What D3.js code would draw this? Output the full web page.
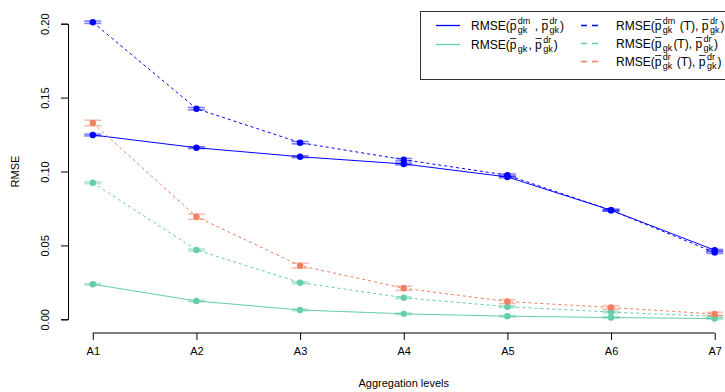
<!DOCTYPE html>
<html><head><meta charset="utf-8">
<script src="https://cdn.jsdelivr.net/npm/d3@7"></script>
<style>body{margin:0;background:#fff}svg{display:block;font-family:"Liberation Sans",Arial,sans-serif}</style>
</head><body><div id="chart"></div>
<script>
const categories = ["A1","A2","A3","A4","A5","A6","A7"];
const yTicks = [0.00,0.05,0.10,0.15,0.20];
const dmSolid   = [0.1247,0.1161,0.1100,0.1051,0.0963,0.0738,0.0468];
const dmDashed  = [0.2010,0.1425,0.1195,0.1080,0.0975,0.0738,0.0452];
const dSolid    = [0.0237,0.0124,0.0063,0.0037,0.0021,0.0012,0.0005];
const dDashed   = [0.0924,0.0469,0.0248,0.0146,0.0085,0.0049,0.0020];
const drDashed  = [0.1328,0.0694,0.0363,0.0210,0.0120,0.0080,0.0036];
const dmSolidErr  = [0.0006,0.0006,0.0006,0.0006,0.0006,0.0005,0.0005];
const dmDashedErr = [0.0008,0.0008,0.0008,0.0008,0.0008,0.0006,0.0006];
const dSolidErr   = [0.0005,0.0005,0.0005,0.0005,0.0005,0.0005,0.0005];
const dDashedErr  = [0.0006,0.0006,0.0006,0.0006,0.0006,0.0006,0.0006];
const drDashedErr = [0.0019,0.0018,0.0016,0.0014,0.0013,0.0012,0.0011];
const colBlue = "#0000FF", colGreen = "#66CDAA", colOrange = "#F08060";

const W = 725, H = 392;
const svg = d3.select("#chart").append("svg").attr("width",W).attr("height",H);
const x = d3.scalePoint().domain(categories).range([92.8, 714.7]);
const y = d3.scaleLinear().domain([0,0.20]).range([319.3, 23.7]);
const axisY = 333;

// axes
const ya = svg.append("g").attr("transform","translate(68,0)")
  .call(d3.axisLeft(y).tickValues(yTicks).tickFormat(d3.format(".2f")).tickSizeOuter(0).tickSize(7));
ya.select(".domain").attr("stroke","#000");
ya.selectAll("text").attr("font-size",11).attr("fill","#000")
  .attr("x",0).attr("y",0).attr("dy",0)
  .attr("transform","translate(-19,0) rotate(-90)").attr("text-anchor","middle");
const xa = svg.append("g").attr("transform",`translate(0,${axisY})`)
  .call(d3.axisBottom(x).tickSizeOuter(0).tickSize(7));
xa.select(".domain").attr("d",`M${x("A1")},0H${x("A7")}`).attr("stroke","#000");
xa.selectAll("text").attr("font-size",11).attr("fill","#000").attr("y",14).attr("dy","0.71em");
svg.append("text").attr("x",(x("A1")+x("A7"))/2).attr("y",387).attr("text-anchor","middle")
  .attr("font-size",11).text("Aggregation levels");
svg.append("text").attr("transform",`translate(19,${y(0.10)}) rotate(-90)`).attr("text-anchor","middle")
  .attr("font-size",11).text("RMSE");

const series = [
  {v:dSolid, e:dSolidErr, c:colGreen, dash:null},
  {v:dmSolid, e:dmSolidErr, c:colBlue, dash:null},
  {v:dDashed, e:dDashedErr, c:colGreen, dash:"3,3"},
  {v:drDashed, e:drDashedErr, c:colOrange, dash:"3,3"},
  {v:dmDashed, e:dmDashedErr, c:colBlue, dash:"3,3"},
];
const line = d3.line().x((d,i)=>x(categories[i])).y(d=>y(d));
series.forEach(s=>{
  const g = svg.append("g");
  g.append("path").attr("d",line(s.v)).attr("fill","none").attr("stroke",s.c).attr("stroke-width",1)
    .attr("stroke-dasharray",s.dash);
  s.v.forEach((v,i)=>{
    const cx = x(categories[i]), lo = y(v - s.e[i]), hi = y(v + s.e[i]);
    const eb = g.append("g").attr("stroke",s.c).attr("stroke-opacity",0.5).attr("stroke-width",1.6);
    eb.append("line").attr("x1",cx).attr("x2",cx).attr("y1",lo).attr("y2",hi);
    eb.append("line").attr("x1",cx-8.5).attr("x2",cx+8.5).attr("y1",lo).attr("y2",lo);
    eb.append("line").attr("x1",cx-8.5).attr("x2",cx+8.5).attr("y1",hi).attr("y2",hi);
    g.append("circle").attr("cx",cx).attr("cy",y(v)).attr("r",3.2).attr("fill",s.c);
  });
});

// legend
const lg = svg.append("g");
lg.append("rect").attr("x",420.5).attr("y",11.5).attr("width",330).attr("height",68)
  .attr("fill","#fff").attr("stroke","#333").attr("stroke-width",1);
function mathLabel(g, x0, yb, parts){
  let cx = x0;
  const t = g.append("text").attr("font-size",12).attr("fill","#000").style("white-space","pre");
  parts.forEach(p=>{
    if (typeof p === "string"){
      const ts = t.append("tspan").attr("x",cx).attr("y",yb).style("white-space","pre").text(p);
      cx += ts.node().getComputedTextLength();
    } else {
      const ts = t.append("tspan").attr("x",cx).attr("y",yb).text("p");
      const w = ts.node().getComputedTextLength();
      g.append("line").attr("x1",cx+0.5).attr("x2",cx+w).attr("y1",yb-10).attr("y2",yb-10)
        .attr("stroke","#000").attr("stroke-width",0.8);
      cx += w + 1.5;
      let mw = 0;
      if (p.sup){ const s = t.append("tspan").attr("x",cx).attr("y",yb-5.5).attr("font-size",9).text(p.sup);
        mw = Math.max(mw, s.node().getComputedTextLength()); }
      if (p.sub){ const s = t.append("tspan").attr("x",cx).attr("y",yb+3).attr("font-size",9).text(p.sub);
        mw = Math.max(mw, s.node().getComputedTextLength()); }
      cx += mw + 1;
    }
  });
}
const legendRows = [
  {lx1:436, lx2:460, tx:471, y:25.5, c:colBlue, dash:null,
   parts:["RMSE(",{sup:"dm",sub:"gk"}," , ",{sup:"dr",sub:"gk"},")"]},
  {lx1:436, lx2:460, tx:471, y:44.5, c:colGreen, dash:null,
   parts:["RMSE(",{sub:"gk"},", ",{sup:"dr",sub:"gk"},")"]},
  {lx1:581, lx2:601, tx:616, y:25.5, c:colBlue, dash:"3,3",
   parts:["RMSE(",{sup:"dm",sub:"gk"}," (T), ",{sup:"dr",sub:"gk"},")"]},
  {lx1:581, lx2:601, tx:616, y:43.5, c:colGreen, dash:"3,3",
   parts:["RMSE(",{sub:"gk"},"(T), ",{sup:"dr",sub:"gk"},")"]},
  {lx1:581, lx2:601, tx:616, y:61.5, c:colOrange, dash:"3,3",
   parts:["RMSE(",{sup:"dr",sub:"gk"}," (T), ",{sup:"dr",sub:"gk"},")"]},
];
legendRows.forEach(r=>{
  lg.append("line").attr("x1",r.lx1).attr("x2",r.lx2).attr("y1",r.y).attr("y2",r.y)
    .attr("stroke",r.c).attr("stroke-width",1.3).attr("stroke-dasharray",r.dash ? "6,5" : null);
  mathLabel(lg, r.tx, r.y+4, r.parts);
});
</script></body></html>
